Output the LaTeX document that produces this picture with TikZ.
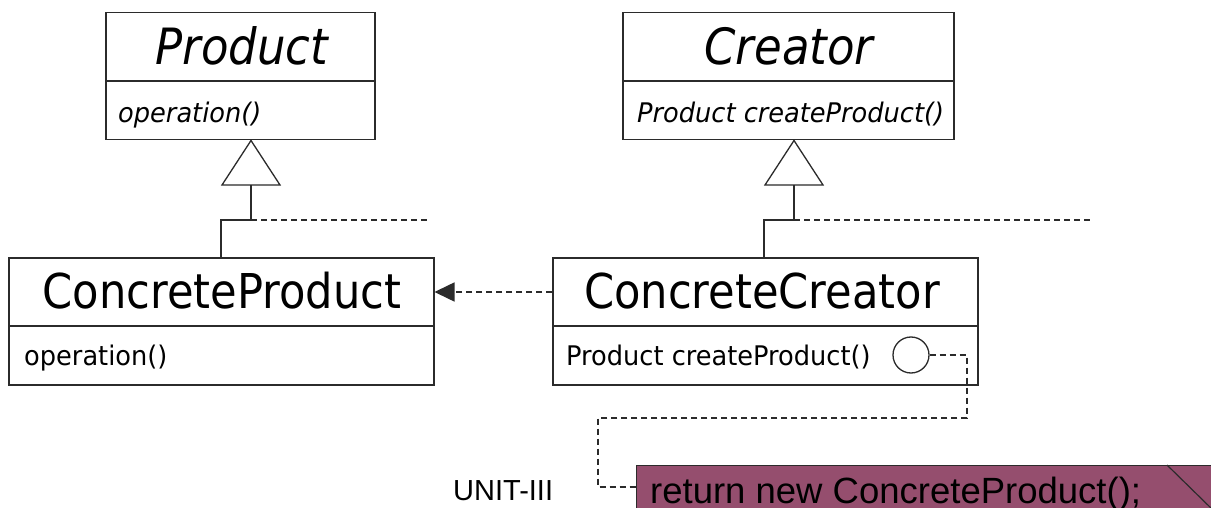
\documentclass[tikz,border=0pt]{standalone}
\usepackage{fontspec}
\usetikzlibrary{arrows.meta}
\newfontfamily\bigf[FakeStretch=0.9]{DejaVu Sans}
\newfontfamily\smallf[FakeStretch=0.95]{DejaVu Sans}
\newfontfamily\arialf{Liberation Sans}
\definecolor{linec}{HTML}{2B2B2B}
\definecolor{notec}{HTML}{954E6E}
\tikzset{
  box/.style={draw=linec, line width=1.5pt, rectangle, inner sep=0pt, anchor=north west},
  titletext/.style={inner sep=0pt, anchor=base, font=\bigf\fontsize{48}{56}\selectfont},
  optext/.style={inner sep=0pt, anchor=base west, font=\smallf\fontsize{27}{32}\selectfont},
  conn/.style={draw=linec, line width=1.5pt},
  dashline/.style={draw=linec, line width=1.5pt, dash pattern=on 6pt off 4pt},
  inherit/.style={draw=linec, line width=1.3pt, fill=white, line join=miter},
}
\begin{document}
\begin{tikzpicture}[x=1pt, y=-1pt]
\useasboundingbox (0,0) rectangle (1211,508);
\fill[white] (0,0) rectangle (1211,508);

% boxes
\node[box, minimum width=269pt, minimum height=127pt] (prod) at (105,12) {};
\node[box, minimum width=331pt, minimum height=127pt] (crea) at (622,12) {};
\node[box, minimum width=425pt, minimum height=127pt] (cp) at (8,257) {};
\node[box, minimum width=425pt, minimum height=127pt] (cc) at (552,257) {};

% dividers
\draw[conn] (prod.west |- 0,81) -- (prod.east |- 0,81);
\draw[conn] (crea.west |- 0,81) -- (crea.east |- 0,81);
\draw[conn] (cp.west |- 0,326) -- (cp.east |- 0,326);
\draw[conn] (cc.west |- 0,326) -- (cc.east |- 0,326);

% texts
\node[titletext, font=\bigf\itshape\fontsize{50}{58}\selectfont] (prodname) at (242,65) {Product};
\node[titletext, font=\bigf\itshape\fontsize{50}{58}\selectfont] (creaname) at (789,65) {Creator};
\node[optext, font=\smallf\itshape\fontsize{27}{32}\selectfont] (prodop) at (118,123) {operation()};
\node[optext, font=\smallf\itshape\fontsize{27}{32}\selectfont] (creaop) at (637,123) {Product createProduct()};
\node[titletext] (cpname) at (222,308) {ConcreteProduct};
\node[titletext] (ccname) at (762,308) {ConcreteCreator};
\node[optext] (cpop) at (24,365) {operation()};
\node[optext] (ccop) at (566,365) {Product createProduct()};

% inheritance: Product <- ConcreteProduct
\coordinate (pj) at (251,220);
\coordinate (pt) at (251,185);
\draw[conn] (cp.north -| 221,0) -- (221,220) -- (pj) -- (pt);
\draw[inherit] (prod.south -| 251,0) -- (222,185) -- (280,185) -- cycle;
\coordinate (pdash) at (430,220);
\draw[dashline] (pj) -- (pdash);

% inheritance: Creator <- ConcreteCreator
\coordinate (cj) at (794,220);
\coordinate (ct) at (794,185);
\draw[conn] (cc.north -| 764,0) -- (764,220) -- (cj) -- (ct);
\draw[inherit] (crea.south -| 794,0) -- (765,185) -- (823,185) -- cycle;
\coordinate (cdash) at (1093,220);
\draw[dashline] (cj) -- (cdash);

% dependency
\draw[dashline, -{Triangle[length=20pt,width=19pt]}] (cc.west |- 0,292) -- (cp.east |- 0,292);

% note
\node[draw=linec, line width=1.2pt, fill=notec, anchor=north west, minimum width=620pt, minimum height=70pt, inner sep=0pt] (note) at (636,465) {};
\draw[linec, line width=1.2pt] (1167,465) -- (1215,512);
\node[inner sep=0pt, anchor=base west, font=\arialf\fontsize{36.5}{40}\selectfont] (notetext) at (650,503) {return new ConcreteProduct();};

% circle and note link
\node[circle, draw=linec, line width=1.3pt, minimum size=36pt, inner sep=0pt] (circ) at (911,355) {};
\coordinate (l1) at (967,355);
\coordinate (l2) at (967,418);
\coordinate (l3) at (598,418);
\coordinate (l4) at (598,487);
\draw[dashline, line width=1.3pt] (circ.east) -- (l1) -- (l2) -- (l3) -- (l4) -- (note.west |- l4);

\node[inner sep=0pt, anchor=base west, font=\arialf\fontsize{29}{32}\selectfont] (unit) at (453,500) {UNIT-III};
\end{tikzpicture}
\end{document}
